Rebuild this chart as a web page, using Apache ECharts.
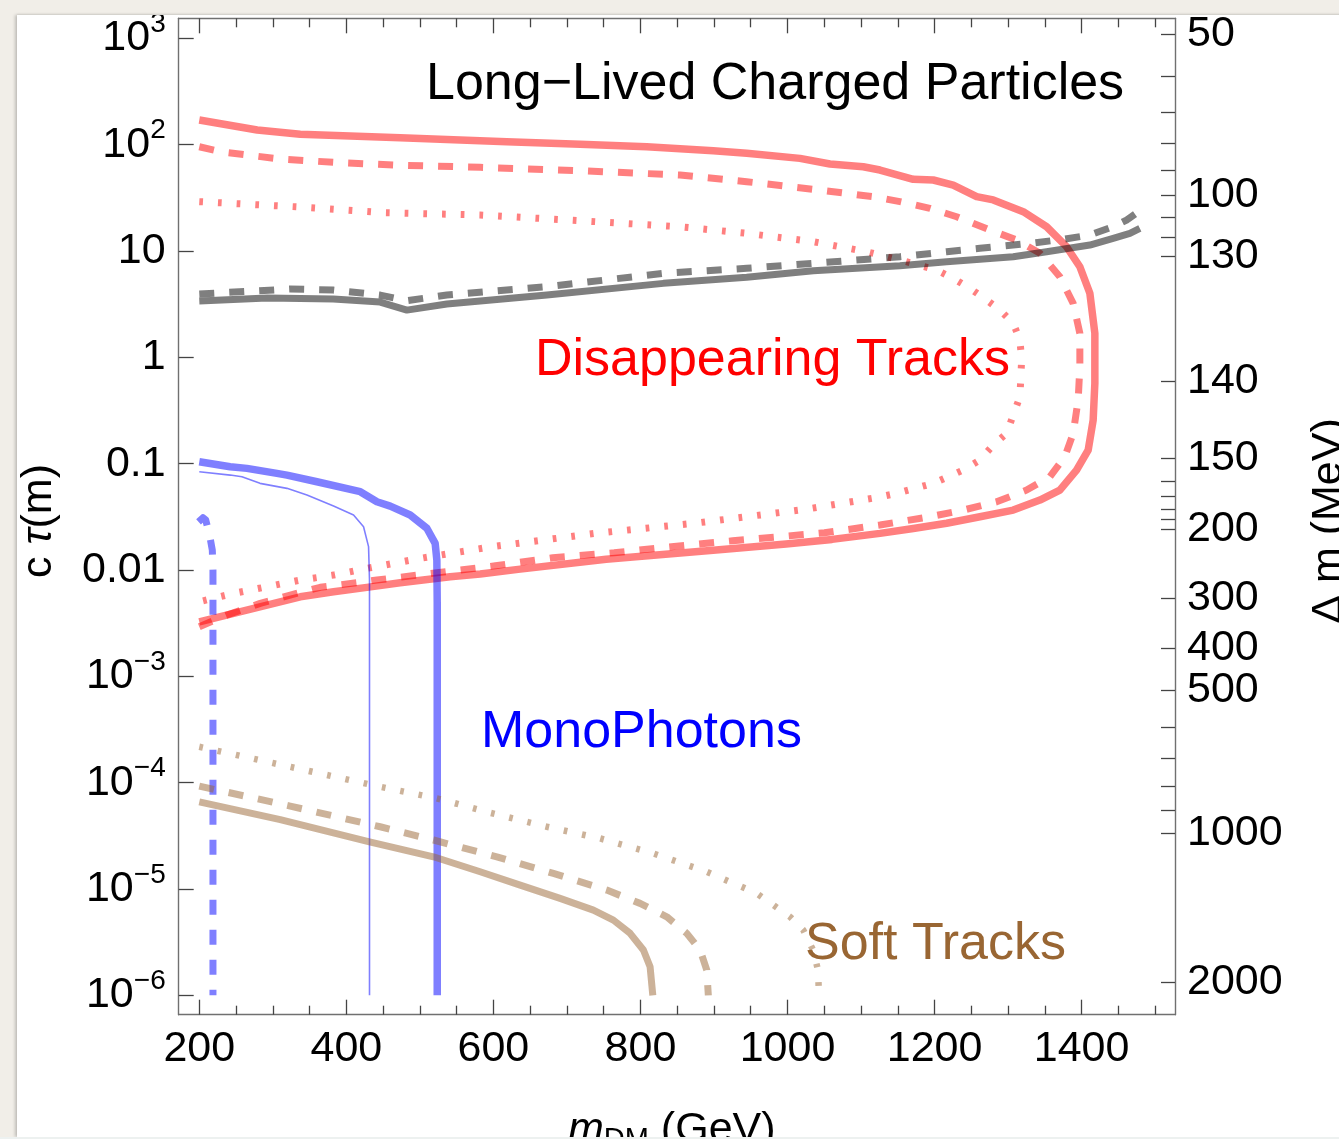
<!DOCTYPE html>
<html><head><meta charset="utf-8">
<script src="https://cdn.jsdelivr.net/npm/echarts@6/dist/echarts.min.js"></script>
<style>
html,body{margin:0;padding:0;width:1339px;height:1139px;overflow:hidden;background:#f1eee8;}
#card{position:absolute;left:17px;top:15px;width:1340px;height:1122px;background:#fff;overflow:hidden;box-shadow:-2px 0 3px rgba(0,0,0,0.20),0 -1px 2px rgba(0,0,0,0.06);}
#chart{position:absolute;left:-17px;top:-15px;width:1339px;height:1139px;}
#strip{position:absolute;left:0;top:1137px;width:1339px;height:2px;background:#edf1f0;}
</style></head>
<body>
<div id="card"><div id="chart"></div></div>
<div id="strip"></div>
<script>
// ---------------- data ----------------
const xMajorTicks = [200, 400, 600, 800, 1000, 1200, 1400];
const xMajorLabels = ['200', '400', '600', '800', '1000', '1200', '1400'];
const xMinorTicks = [250, 300, 350, 450, 500, 550, 650, 700, 750, 850, 900, 950, 1050, 1100, 1150, 1250, 1300, 1350, 1450, 1500];
const yMajorTicks = [1e-6, 1e-5, 1e-4, 1e-3, 0.01, 0.1, 1, 10, 100, 1000];
const yMajorLabels = ['10{s|−6}', '10{s|−5}', '10{s|−4}', '10{s|−3}', '0.01', '0.1', '1', '10', '10{s|2}', '10{s|3}'];
// right axis: Δm (MeV) labels and the cτ (m) values where they sit
const dmLabels = ['50', '100', '130', '140', '150', '200', '300', '400', '500', '1000', '2000'];
const dmLabelCtau = [1096, 33.57, 8.97, 0.598, 0.1122, 0.0241, 0.00545, 0.001832, 0.000738, 3.38e-5, 1.324e-6];
const dmMinorCtau = [435.5, 199.5, 102.9, 57.36, 20.84, 13.43, 0.0690, 0.0493, 0.0374, 0.0297, 0.000333, 0.0001694, 9.29e-5, 5.45e-5];

// Disappearing tracks (m_DM GeV, cτ m)
const dtSolid = [[200,170.4],[278.8,137.3],[337.3,125.1],[473.2,116.2],[618.3,106.6],[717.9,100.7],[808.6,95.6],[899.1,87.7],[944.5,82.9],[1017,74.3],[1057.8,65.7],[1103,62.0],[1125.8,57.7],[1171,47.2],[1198.2,46.5],[1225.4,41.7],[1257.2,32.4],[1279.8,30.2],[1320.6,23.4],[1352.4,16.9],[1379.5,10.97],[1397.6,7.11],[1411.2,4.00],[1418,1.68],[1418,0.569],[1415.7,0.257],[1408.9,0.1343],[1393.1,0.0871],[1370.4,0.0565],[1343.3,0.0455],[1307,0.0366],[1261.7,0.0317],[1216.4,0.0275],[1171,0.0246],[1125.8,0.0221],[1060.5,0.0194],[998,0.01754],[915,0.01564],[753.3,0.0126],[633.6,0.01014],[582,0.00916],[541.2,0.00864],[473.2,0.00759],[428,0.00687],[382.6,0.00624],[337.3,0.0056],[292,0.00468],[246.6,0.00391],[200,0.00326]];
const dtDashed = [[200,95.6],[231.3,85.2],[310.1,73.3],[382.2,68.2],[464.1,64.3],[582,61.2],[717.9,56.9],[853.9,51.8],[944.5,44.8],[1035.1,38.0],[1116.6,32.4],[1152.9,29.1],[1193.7,25.2],[1230,21.0],[1275.3,15.74],[1311.6,12.68],[1343.3,9.51],[1370.4,5.73],[1388.5,3.22],[1397.6,1.68],[1397.6,0.816],[1395.3,0.3966],[1388.5,0.1928],[1377.2,0.1161],[1356.9,0.0753],[1325.2,0.0565],[1284.4,0.0438],[1239,0.0366],[1193.7,0.0317],[1125.8,0.0265],[1050.2,0.0224],[925.4,0.01884],[842.2,0.01655],[764.2,0.01453],[680.8,0.01304],[602.8,0.01096],[523.1,0.00942],[441.6,0.00804],[364.5,0.00687],[323.7,0.00581],[282.9,0.00486],[237.7,0.00377],[200,0.00293]];
const dtDotted = [[200,29.1],[337.3,25.9],[450.5,22.9],[582,21.8],[717.9,19.26],[853.9,16.9],[944.5,14.66],[1035.1,12.22],[1107.7,9.84],[1152.9,8.22],[1202.8,6.62],[1225.4,5.53],[1248.1,4.45],[1270.8,3.46],[1288.9,2.78],[1307,2.09],[1316.1,1.454],[1318.4,0.943],[1316.1,0.426],[1307,0.2866],[1298,0.1928],[1279.8,0.1497],[1261.7,0.1082],[1239,0.0871],[1198.2,0.0653],[1148.5,0.0526],[1123,0.0482],[1024.2,0.0372],[873.3,0.0275],[738.1,0.0221],[597.6,0.01655],[500.4,0.01287],[428,0.01036],[382.6,0.00896],[337.3,0.00804],[292,0.00696],[246.6,0.00603],[200,0.00503]];
// grey curves
const greySolid = [[200,3.38],[292.4,3.61],[382.2,3.53],[446,3.31],[482.3,2.78],[536.7,3.17],[672.7,3.85],[831.2,4.96],[944.5,5.65],[1035.1,6.52],[1152.9,7.27],[1216.4,7.93],[1307,8.83],[1352.4,9.84],[1411.2,11.38],[1442.9,13.16],[1465.6,14.66],[1479.2,16.33]];
const greyDashed = [[200,3.94],[323.7,4.39],[382.2,4.29],[446,3.85],[482.3,3.41],[536.7,3.85],[672.7,4.61],[831.2,6.17],[944.5,6.87],[1035.1,7.65],[1152.9,8.83],[1216.4,9.84],[1261.7,10.59],[1329.7,11.80],[1374.9,12.88],[1411.2,14.13],[1442.9,16.9],[1461.1,19.55],[1483.7,25.2]];
// mono photons
const mpThick = [[200,0.1043],[242,0.0935],[264.8,0.0903],[305.6,0.0811],[319.2,0.0781],[360,0.0676],[418.9,0.0545],[441.6,0.0438],[459.7,0.0399],[486.8,0.0329],[509.5,0.0247],[520.8,0.0178],[523.1,0.0124],[523.6,0.005],[523.6,1e-6]];
const mpThin = [[200,0.0839],[242.1,0.0781],[258,0.0753],[282.6,0.0653],[319.2,0.0586],[346.4,0.0507],[382.6,0.0399],[409.8,0.0329],[423.4,0.0255],[430.2,0.0166],[431.5,0.008],[431.5,1e-6]];
const mpDashed = [[199,0.0284],[205,0.031],[208.8,0.0295],[214,0.0213],[217.7,0.0154],[218.6,0.00999],[218.6,1e-6]];
// soft tracks
const stSolid = [[200,6.61e-5],[310.1,4.5e-5],[431.5,2.78e-5],[518.5,2.01e-5],[582,1.453e-5],[636.4,1.089e-5],[690.7,8.17e-6],[736,6.34e-6],[763.2,5.10e-6],[785.9,3.83e-6],[804,2.67e-6],[813.1,1.86e-6],[816.8,1e-6]];
const stDashed = [[200,9.29e-5],[323.7,6.03e-5],[446,3.85e-5],[518.5,2.89e-5],[604.7,2.01e-5],[681.6,1.403e-5],[754.2,9.77e-6],[799.5,7.33e-6],[835.8,5.48e-6],[863,3.83e-6],[881.1,2.67e-6],[890.2,1.73e-6],[892.3,1e-6]];
const stDotted = [[200,2.176e-4],[337.3,1.343e-4],[446,9.15e-5],[523.1,7.12e-5],[595.6,5.21e-5],[672.7,3.85e-5],[745.1,2.99e-5],[817.6,2.16e-5],[890.2,1.453e-5],[958.1,9.1e-6],[1003.4,5.48e-6],[1021.5,4.11e-6],[1034.7,2.67e-6],[1041.5,1.73e-6],[1042.8,1e-6]];

// ---------------- styling ----------------
const FONT = '"Liberation Sans", Arial, Helvetica, sans-serif';
const X_MIN = 172, X_MAX = 1527;
const Y_MIN = 6.58e-7, Y_MAX = 1542;
const RED = 'rgba(255,0,0,0.5)', BLUE = 'rgba(0,0,255,0.5)', GREY = 'rgba(0,0,0,0.5)', BROWN = 'rgba(153,102,51,0.5)';
const DASH = [15, 15], DOT = [3.7, 15];
const AXIS_LINE = {show: true, onZero: false, lineStyle: {color: '#707070', width: 1.4}};

function nearestIndex(arr, v) {
  let best = 0, bd = Infinity;
  arr.forEach((c, i) => { const d = Math.abs(Math.log10(c) - Math.log10(v)); if (d < bd) { bd = d; best = i; } });
  return best;
}
function nearestLinear(arr, v) {
  let best = 0, bd = Infinity;
  arr.forEach((c, i) => { const d = Math.abs(c - v); if (d < bd) { bd = d; best = i; } });
  return best;
}
function curve(data, color, width, type) {
  return {type: 'line', data: data, xAxisIndex: 0, yAxisIndex: 0, showSymbol: false, symbol: 'none',
    silent: true, clip: true, animation: false,
    lineStyle: {color: color, width: width, type: type, cap: 'butt', join: 'round'}};
}
function xAxis(pos, ticks, len, labels) {
  return {type: 'value', min: X_MIN, max: X_MAX, position: pos, gridIndex: 0,
    axisLine: labels ? AXIS_LINE : {show: pos === 'top' && len > 10, onZero: false, lineStyle: AXIS_LINE.lineStyle},
    axisTick: {show: true, inside: true, length: len, customValues: ticks, lineStyle: {color: '#444', width: 1.3}},
    axisLabel: labels ? {show: true, customValues: ticks, margin: 13, fontSize: 43, fontFamily: FONT, color: '#000',
      formatter: v => xMajorLabels[nearestLinear(xMajorTicks, v)]} : {show: false},
    splitLine: {show: false}, minorTick: {show: false}};
}

const chart = echarts.init(document.getElementById('chart'), null, {width: 1339, height: 1139, renderer: 'canvas'});
chart.setOption({
  animation: false,
  backgroundColor: 'transparent',
  grid: {left: 178.7, top: 18.3, right: 164, bottom: 124.3, containLabel: false, outerBoundsMode: 'none'},
  xAxis: [
    xAxis('bottom', xMajorTicks, 15, true),
    xAxis('bottom', xMinorTicks, 9, false),
    xAxis('top', xMajorTicks, 15, false),
    xAxis('top', xMinorTicks, 9, false)
  ],
  yAxis: [
    {type: 'log', logBase: 10, min: Y_MIN, max: Y_MAX, position: 'left',
      axisLine: AXIS_LINE,
      axisTick: {show: true, inside: true, length: 15, customValues: yMajorTicks, lineStyle: {color: '#444', width: 1.3}},
      axisLabel: {show: true, customValues: yMajorTicks, margin: 13, fontSize: 43, lineHeight: 56, fontFamily: FONT, color: '#000',
        formatter: v => yMajorLabels[nearestIndex(yMajorTicks, v)],
        rich: {s: {fontSize: 28, lineHeight: 32, verticalAlign: 'top', fontFamily: FONT, color: '#000'}}},
      splitLine: {show: false}, minorTick: {show: false}},
    {type: 'log', logBase: 10, min: Y_MIN, max: Y_MAX, position: 'right',
      axisLine: AXIS_LINE,
      axisTick: {show: true, inside: true, length: 14, customValues: dmLabelCtau.concat(dmMinorCtau), lineStyle: {color: '#444', width: 1.3}},
      axisLabel: {show: true, customValues: dmLabelCtau, margin: 12, fontSize: 43, fontFamily: FONT, color: '#000',
        formatter: v => dmLabels[nearestIndex(dmLabelCtau, v)]},
      splitLine: {show: false}, minorTick: {show: false}}
  ],
  series: [
    curve(dtSolid, RED, 7.5, 'solid'),
    curve(dtDashed, RED, 7, DASH),
    curve(dtDotted, RED, 7, DOT),
    curve(greySolid, GREY, 7, 'solid'),
    curve(greyDashed, GREY, 7, DASH),
    curve(mpThick, BLUE, 7.5, 'solid'),
    curve(mpThin, BLUE, 1.6, 'solid'),
    curve(mpDashed, BLUE, 7, DASH),
    curve(stSolid, BROWN, 7, 'solid'),
    curve(stDashed, BROWN, 7, DASH),
    curve(stDotted, BROWN, 6.5, DOT)
  ],
  graphic: [
    {type: 'text', z: 100, x: 426, y: 85, style: {text: 'Long−Lived Charged Particles', fill: '#000', fontSize: 52, fontFamily: FONT, align: 'left', verticalAlign: 'middle'}},
    {type: 'text', z: 100, x: 535, y: 361, style: {text: 'Disappearing Tracks', fill: '#ff0000', fontSize: 52, fontFamily: FONT, align: 'left', verticalAlign: 'middle'}},
    {type: 'text', z: 100, x: 481, y: 733, style: {text: 'MonoPhotons', fill: '#0000ff', fontSize: 52, fontFamily: FONT, align: 'left', verticalAlign: 'middle'}},
    {type: 'text', z: 100, x: 805, y: 945, style: {text: 'Soft Tracks', fill: '#996633', fontSize: 52, fontFamily: FONT, align: 'left', verticalAlign: 'middle'}},
    {type: 'text', z: 100, x: 39, y: 521, rotation: Math.PI / 2, style: {text: 'c {i|τ}(m)', fill: '#000', fontSize: 43, fontFamily: FONT, align: 'center', verticalAlign: 'middle',
      rich: {i: {fontStyle: 'italic', fontSize: 43, fontFamily: FONT, fill: '#000'}}}},
    {type: 'text', z: 100, x: 1329, y: 521, rotation: Math.PI / 2, style: {text: 'Δ m (MeV)', fill: '#000', fontSize: 43, fontFamily: FONT, align: 'center', verticalAlign: 'middle'}},
    {type: 'text', z: 100, x: 568, y: 1130, style: {text: '{i|m}{sub|DM} (GeV)', fill: '#000', fontSize: 43, lineHeight: 48, fontFamily: FONT, align: 'left', verticalAlign: 'middle',
      rich: {i: {fontStyle: 'italic', fontSize: 43, lineHeight: 48, fontFamily: FONT, fill: '#000'}, sub: {fontSize: 29, lineHeight: 30, verticalAlign: 'bottom', fontFamily: FONT, fill: '#000'}}}}
  ]
});
</script>
</body></html>
